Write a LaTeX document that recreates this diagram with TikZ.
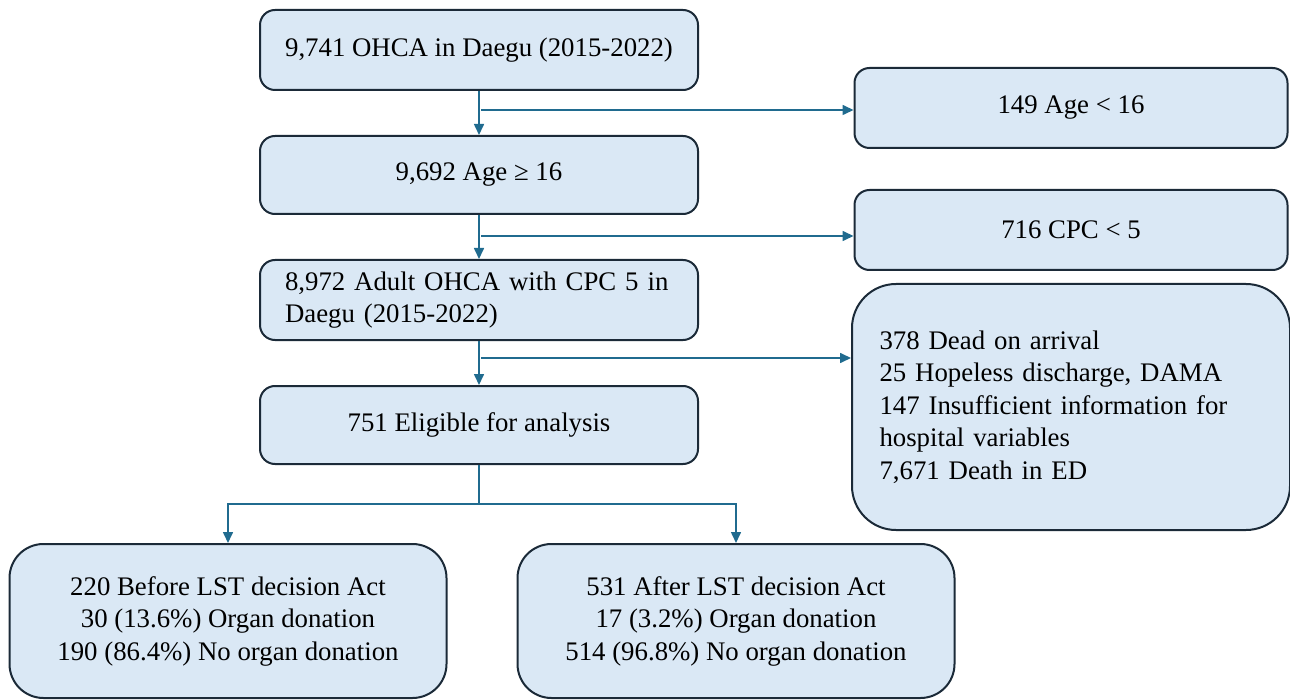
\documentclass[tikz,border=0pt]{standalone}
\usepackage{fontspec}
\setmainfont{Liberation Serif}
\usetikzlibrary{arrows.meta}
\definecolor{boxfill}{HTML}{DAE8F5}
\definecolor{boxline}{HTML}{1B2A38}
\definecolor{flowline}{HTML}{206B8F}

\begin{document}
\begin{tikzpicture}[x=0.5pt,y=-0.5pt,
    box/.style={draw=boxline, line width=1pt, fill=boxfill, rounded corners=7.5pt,
      minimum width=219pt, minimum height=40pt, align=center,
      font=\fontsize{13.4}{16.25}\selectfont},
    flow/.style={draw=flowline, line width=0.8pt},
    arr/.style={flow, -{Triangle[length=5.5pt,width=5pt]}}] %Diagrama de flujo
    \useasboundingbox (0,0) rectangle (1290,700);

    % columna principal
    \node[box] (top) at (479,50) {9,741 OHCA in Daegu (2015-2022)};
    \node[box, minimum height=39pt] (age) at (479,175) {9,692 Age ≥ 16};
    \node[box, text width=194pt, inner xsep=12.5pt, align=left] (adult) at (479,300)
        {8,972 Adult OHCA with CPC 5 in\\Daegu (2015-2022)};
    \node[box, minimum height=39pt] (elig) at (479,425) {751 Eligible for analysis};

    % excluidos
    \node[box, minimum width=216.5pt] (ex1) at (1071,108) {149 Age < 16};
    \node[box, minimum width=216.5pt] (ex2) at (1071,230) {716 CPC < 5};
    \node[box, rounded corners=22pt, minimum height=123pt, align=left,
        text width=191.5pt, inner xsep=12.5pt] (ex3) at (1071,407)
        {378 Dead on arrival\\25 Hopeless discharge, DAMA\\
         147 Insufficient information for\\hospital variables\\7,671 Death in ED};

    % grupos
    \node[box, rounded corners=17pt, minimum width=218.5pt, minimum height=77pt] (bl) at (228,621)
        {220 Before LST decision Act\\30 (13.6\%) Organ donation\\190 (86.4\%) No organ donation};
    \node[box, rounded corners=17pt, minimum width=218.5pt, minimum height=77pt] (br) at (736,621)
        {531 After LST decision Act\\17 (3.2\%) Organ donation\\514 (96.8\%) No organ donation};

    \coordinate (split1) at (481,110);
    \coordinate (split2) at (481,236);
    \coordinate (split3) at (481,358);

    \draw[arr] (top) -- (age);
    \draw[arr] (split1) -- (split1 -| ex1.west);
    \draw[arr] (age) -- (adult);
    \draw[arr] (split2) -- (split2 -| ex2.west);
    \draw[arr] (adult) -- (elig);
    \draw[arr] (split3) -- (split3 -| ex3.west);

    \draw[flow] (elig.south) -- ++(0,39) coordinate (fork);
    \draw[arr] (fork) -| (bl.north);
    \draw[arr] (fork) -| (br.north);
\end{tikzpicture}
\end{document}
